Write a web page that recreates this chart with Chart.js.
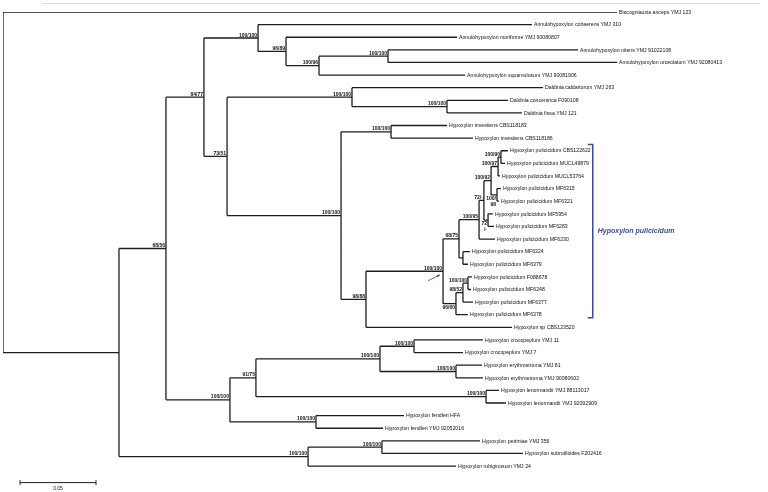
<!DOCTYPE html>
<html>
<head>
  <script src="https://cdn.jsdelivr.net/npm/chart.js"></script>
  <title>Hypoxylon phylogeny</title>
  <style>
    body { margin: 0; background: #fff; }
    #wrap { position: relative; width: 768px; height: 492px; }
    #topline { position: absolute; top: 3px; left: 42px; width: 718px; border-top: 1px solid #dcdcdc; }
  </style>
</head>
<body>
<div id="wrap">
  <div id="topline"></div>
  <canvas id="tree" width="768" height="492"></canvas>
</div>
<script>
  // taxa, top to bottom (row index = y value)
  let taxa = [
    'Biscogniauxia anceps YMJ 123',
    'Annulohypoxylon cohaerens YMJ 310',
    'Annulohypoxylon moriforme YMJ 90080807',
    'Annulohypoxylon nitens YMJ 91022108',
    'Annulohypoxylon urceolatum YMJ 92080413',
    'Annulohypoxylon squamulosum YMJ 90081906',
    'Daldinia caldariorum YMJ 263',
    'Daldinia concentrica F090108',
    'Daldinia fissa YMJ 121',
    'Hypoxylon investiens CBS118183',
    'Hypoxylon investiens CBS118186',
    'Hypoxylon pulicicidum CBS122622',
    'Hypoxylon pulicicidum MUCL49879',
    'Hypoxylon pulicicidum MUCL53764',
    'Hypoxylon pulicicidum MF6315',
    'Hypoxylon pulicicidum MF6321',
    'Hypoxylon pulicicidum MF5954',
    'Hypoxylon pulicicidum MF6283',
    'Hypoxylon pulicicidum MF6230',
    'Hypoxylon pulicicidum MF6324',
    'Hypoxylon pulicicidum MF6379',
    'Hypoxylon pulicicidum F088678',
    'Hypoxylon pulicicidum MF6248',
    'Hypoxylon pulicicidum MF6377',
    'Hypoxylon pulicicidum MF6378',
    'Hypoxylon sp CBS123520',
    'Hypoxylon crocopeplum YMJ 11',
    'Hypoxylon crocopeplum YMJ 7',
    'Hypoxylon erythrostroma YMJ 81',
    'Hypoxylon erythrostroma YMJ 90080602',
    'Hypoxylon lenormandii YMJ 88113017',
    'Hypoxylon lenormandii YMJ 92092909',
    'Hypoxylon fendleri HFA',
    'Hypoxylon fendleri YMJ 92052016',
    'Hypoxylon petriniae YMJ 356',
    'Hypoxylon subrutiloides F202416',
    'Hypoxylon rubiginosum YMJ 24'
  ];

  // distance from root (substitutions/site) of each tip
  let tipDepth = [
    0.404, 0.348, 0.2987, 0.3783, 0.404, 0.304, 0.3553, 0.3322, 0.3414, 0.2921,
    0.3092, 0.3322, 0.3303, 0.327, 0.3276, 0.3263, 0.3224, 0.323, 0.3237, 0.3072,
    0.3059, 0.3086, 0.3079, 0.3092, 0.3059, 0.3349, 0.3158, 0.3026, 0.3151, 0.3158,
    0.3263, 0.3309, 0.2638, 0.25, 0.3138, 0.3421, 0.298
  ];

  // internal nodes: depth, children ('t' = tip, 'n' = node), bootstrap support
  let nodeDepth = [
    0, 0.0763, 0.1072, 0.1322, 0.1678, 0.1862, 0.2079, 0.2533, 0.1474, 0.2296,
    0.2921, 0.2224, 0.2553, 0.2388, 0.2895, 0.30, 0.3132, 0.3164, 0.3211, 0.3257,
    0.3276, 0.325, 0.3191, 0.3026, 0.298, 0.3026, 0.3059, 0.1493, 0.1664, 0.248,
    0.2704, 0.298, 0.3178, 0.2059, 0.2007, 0.2493
  ];
  let nodeKids = [
    ['t0', 'n1'], ['n2', 'n34'], ['n3', 'n27'], ['n4', 'n8'], ['t1', 'n5'],
    ['t2', 'n6'], ['n7', 't5'], ['t3', 't4'], ['n9', 'n11'], ['t6', 'n10'],
    ['t7', 't8'], ['n12', 'n13'], ['t9', 't10'], ['n14', 't25'], ['n15', 'n24'],
    ['n16', 'n23'], ['n17', 't18'], ['n18', 'n22'], ['n19', 'n21'], ['n20', 't13'],
    ['t11', 't12'], ['t14', 't15'], ['t16', 't17'], ['t19', 't20'], ['n25', 't24'],
    ['n26', 't23'], ['t21', 't22'], ['n28', 'n33'], ['n29', 'n32'], ['n30', 'n31'],
    ['t26', 't27'], ['t28', 't29'], ['t30', 't31'], ['t32', 't33'], ['n35', 't36'],
    ['t34', 't35']
  ];
  let nodeSupport = [
    '', '', '68/56', '84/77', '100/100', '96/89', '100/96', '100/100', '73/51', '100/100',
    '100/100', '100/100', '100/100', '98/88', '100/100', '68/75', '100/95', '72/-', '100/92', '100/97',
    '100/90', '100/\n98', '72\n/-', '', '96/60', '98/52', '100/100', '100/100', '91/75', '100/100',
    '100/100', '100/100', '100/100', '100/100', '100/100', '100/100'
  ];

  let cladeName = 'Hypoxylon pulicicidum';
  let cladeTips = [11, 24];
  let scaleBarLength = 0.05;

  // ---- layout of the tree ----
  function depthOf(id) {
    return id[0] == 't' ? tipDepth[+id.slice(1)] : nodeDepth[+id.slice(1)];
  }
  let nodeY = [];
  function yOf(id) {
    let k = +id.slice(1);
    if (id[0] == 't') return k;
    if (nodeY[k] === undefined) {
      let kids = nodeKids[k];
      nodeY[k] = (yOf(kids[0]) + yOf(kids[kids.length - 1])) / 2;
    }
    return nodeY[k];
  }
  nodeKids.forEach((_, k) => yOf('n' + k));

  let segs = [];
  nodeKids.forEach((kids, k) => {
    let d = nodeDepth[k];
    segs.push({ x: d, y: yOf(kids[0]) }, { x: d, y: yOf(kids[kids.length - 1]) }, { x: null, y: null });
    kids.forEach(c => {
      segs.push({ x: d, y: yOf(c) }, { x: depthOf(c), y: yOf(c) }, { x: null, y: null });
    });
  });

  const blue = '#3b4a9e';
  const labelBelow = [24]; // support values printed under their branch

  const treeText = {
    id: 'treeText',
    afterDatasetsDraw(chart) {
      const { ctx, scales: { x, y } } = chart;
      ctx.save();

      // tip names
      ctx.fillStyle = '#111';
      ctx.font = '5.2px "Liberation Sans", Arial, sans-serif';
      ctx.textBaseline = 'middle';
      ctx.textAlign = 'left';
      taxa.forEach((name, i) => {
        ctx.fillText(name, x.getPixelForValue(tipDepth[i]) + 2, y.getPixelForValue(i) + 0.3);
      });

      // support values
      ctx.font = 'bold 5px "Liberation Sans", Arial, sans-serif';
      ctx.textAlign = 'right';
      nodeSupport.forEach((s, k) => {
        if (!s) return;
        let px = x.getPixelForValue(nodeDepth[k]) - 1;
        let py = y.getPixelForValue(nodeY[k]);
        let lines = s.split('\n');
        if (labelBelow.includes(k)) {
          ctx.textBaseline = 'middle';
          ctx.fillText(s, px, py + 3.5);
        } else if (lines.length == 1) {
          ctx.textBaseline = 'alphabetic';
          ctx.fillText(s, px, py - 1.5);
        } else {
          ctx.textBaseline = 'middle';
          lines.forEach((l, j) => ctx.fillText(l, px, py + 3.5 + j * 6.5));
        }
      });

      // clade bracket
      let bx = x.getPixelForValue(0.388);
      let top = y.getPixelForValue(cladeTips[0] - 0.5);
      let bot = y.getPixelForValue(cladeTips[1] + 0.25);
      ctx.strokeStyle = blue;
      ctx.lineWidth = 1.5;
      ctx.beginPath();
      ctx.moveTo(bx - 5, top);
      ctx.lineTo(bx, top);
      ctx.lineTo(bx, bot);
      ctx.lineTo(bx - 5, bot);
      ctx.stroke();
      ctx.fillStyle = blue;
      ctx.font = 'italic bold 7px "Liberation Sans", Arial, sans-serif';
      ctx.textAlign = 'left';
      ctx.textBaseline = 'middle';
      ctx.fillText(cladeName, bx + 5, (top + bot) / 2);

      // arrow to the pulicicidum node
      let ax = x.getPixelForValue(nodeDepth[14]);
      let ay = y.getPixelForValue(nodeY[14]);
      ctx.lineWidth = 0.8;
      ctx.beginPath();
      ctx.moveTo(ax - 15, ay + 9.5);
      ctx.lineTo(ax - 3, ay + 3.5);
      ctx.stroke();
      ctx.beginPath();
      ctx.moveTo(ax - 3, ay + 3.5);
      ctx.lineTo(ax - 6.5, ay + 3.8);
      ctx.lineTo(ax - 5.2, ay + 6.2);
      ctx.closePath();
      ctx.fill();

      // scale bar
      let s0 = x.getPixelForValue(0.0112);
      let s1 = x.getPixelForValue(0.0112 + scaleBarLength);
      let sy = y.getPixelForValue(37.31);
      ctx.strokeStyle = '#222';
      ctx.lineWidth = 1;
      ctx.beginPath();
      ctx.moveTo(s0, sy); ctx.lineTo(s1, sy);
      ctx.moveTo(s0, sy - 2.5); ctx.lineTo(s0, sy + 2.5);
      ctx.moveTo(s1, sy - 2.5); ctx.lineTo(s1, sy + 2.5);
      ctx.stroke();
      ctx.fillStyle = '#111';
      ctx.font = '5px "Liberation Sans", Arial, sans-serif';
      ctx.textAlign = 'center';
      ctx.textBaseline = 'middle';
      ctx.fillText(String(scaleBarLength), (s0 + s1) / 2, sy + 6);

      ctx.restore();
    }
  };

  let ctx = document.getElementById('tree').getContext('2d');
  new Chart(ctx, {
    type: 'scatter',
    data: {
      datasets: [{
        data: segs,
        showLine: true,
        spanGaps: false,
        borderColor: '#1e1e1e',
        borderWidth: 1.3,
        pointRadius: 0,
        pointHoverRadius: 0
      }]
    },
    options: {
      responsive: false,
      animation: false,
      events: [],
      layout: { padding: { left: 3, right: 5, top: 12, bottom: 0.7 } },
      scales: {
        x: { type: 'linear', display: false, min: 0, max: 0.5 },
        y: { type: 'linear', display: false, min: 0, max: 38, reverse: true }
      },
      plugins: { legend: { display: false }, tooltip: { enabled: false } }
    },
    plugins: [treeText]
  });
</script>
</body>
</html>
